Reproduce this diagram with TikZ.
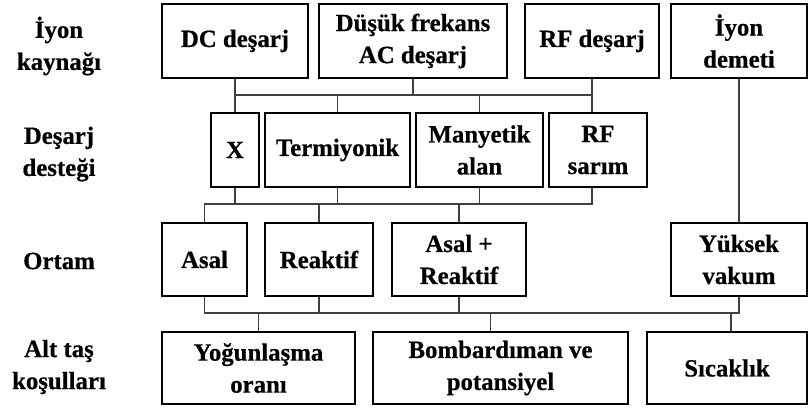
\documentclass[tikz,border=0pt]{standalone}
\usepackage{fontspec}
\setmainfont{Liberation Serif}[BoldFeatures={FakeBold=0.6}]

\begin{document}
\begin{tikzpicture}[x=0.75pt, y=-0.75pt,
    kutu/.style={draw=black, line width=1.5pt, minimum height=55pt, align=center, inner sep=0pt,
        font=\fontsize{18.6pt}{24pt}\selectfont\bfseries},
    etiket/.style={align=center, inner sep=0pt, font=\fontsize{18.6pt}{24pt}\selectfont\bfseries},
    hat/.style={black!75, line width=1.3pt}]
    \useasboundingbox (0,0) rectangle (809,407);

    % Sol etiketler
    \node[etiket] (et1) at (59,46) {İyon\\kaynağı};
    \node[etiket] (et2) at (59,154) {Deşarj\\desteği};
    \node[etiket] (et3) at (59,261) {Ortam};
    \node[etiket] (et4) at (59,367) {Alt taş\\koşulları};

    % İyon kaynağı
    \node[kutu, minimum width=109.5pt] (dc) at (235,41) {DC deşarj};
    \node[kutu, minimum width=141pt] (ac) at (413,41) {Düşük frekans\\AC deşarj};
    \node[kutu, minimum width=100.5pt] (rf) at (592,41) {RF deşarj};
    \node[kutu, minimum width=102pt] (demet) at (739,41) {İyon\\demeti};

    % Deşarj desteği
    \node[kutu, minimum width=36pt] (x) at (235,150) {X};
    \node[kutu, minimum width=108.75pt] (term) at (337.5,150) {Termiyonik};
    \node[kutu, minimum width=95.25pt] (many) at (479.5,150) {Manyetik\\alan};
    \node[kutu, minimum width=73.5pt] (rfs) at (598,150) {RF\\sarım};

    % Ortam
    \node[kutu, minimum width=63.75pt] (asal) at (204.5,259.5) {Asal};
    \node[kutu, minimum width=81pt] (reak) at (319,259.5) {Reaktif};
    \node[kutu, minimum width=100.5pt] (asre) at (459,259.5) {Asal +\\Reaktif};
    \node[kutu, minimum width=102pt] (vak) at (739,259.5) {Yüksek\\vakum};

    % Alt taş koşulları
    \node[kutu, minimum width=144.75pt, minimum height=54pt] (yog) at (258.5,368) {Yoğunlaşma\\oranı};
    \node[kutu, minimum width=191.25pt, minimum height=54pt] (bomb) at (500.5,368) {Bombardıman ve\\potansiyel};
    \node[kutu, minimum width=120pt, minimum height=54pt] (sic) at (727,368) {Sıcaklık};

    % Bağlantı hatları
    \coordinate (b1) at (0,95);
    \coordinate (b2) at (0,204);
    \coordinate (b3) at (0,313);
    \coordinate (bombust) at ([xshift=-7.5pt]bomb.north);
    \coordinate (sicust) at ([xshift=3pt]sic.north);

    % Kaynak -> destek
    \draw[hat] (dc.south) -- (x.north);
    \draw[hat] (dc.south |- b1) -- (rf.south |- b1);
    \draw[hat] (ac.south) -- (ac.south |- b1);
    \draw[hat] (rf.south) -- (rfs.north -| rf.south);
    \draw[hat] (term.north) -- (term.north |- b1);
    \draw[hat] (many.north) -- (many.north |- b1);

    % Destek -> ortam
    \draw[hat] (x.south) -- (x.south |- b2);
    \draw[hat] (term.south) -- (term.south |- b2);
    \draw[hat] (many.south) -- (many.south |- b2);
    \draw[hat] (rfs.south -| rf.south) -- (b2 -| rf.south) -- (b2 -| asal.north) -- (asal.north);
    \draw[hat] (reak.north) -- (reak.north |- b2);
    \draw[hat] (asre.north) -- (asre.north |- b2);

    % Ortam -> alt taş
    \draw[hat] (demet.south) -- (vak.north);
    \draw[hat] (asal.south) -- (asal.south |- b3) -- (b3 -| vak.south) -- (vak.south);
    \draw[hat] (reak.south) -- (reak.south |- b3);
    \draw[hat] (asre.south) -- (asre.south |- b3);
    \draw[hat] (yog.north) -- (yog.north |- b3);
    \draw[hat] (bombust) -- (bombust |- b3);
    \draw[hat] (sicust) -- (sicust |- b3);
\end{tikzpicture}
\end{document}
